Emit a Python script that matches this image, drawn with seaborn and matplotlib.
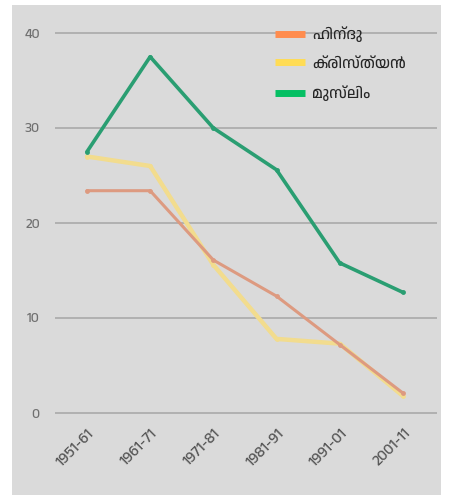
import matplotlib
matplotlib.use("Agg")
import matplotlib.pyplot as plt
from matplotlib import font_manager
from matplotlib.patches import Rectangle
from matplotlib.lines import Line2D
from matplotlib.transforms import ScaledTranslation
import seaborn as sns
import pandas as pd

periods = ["1951-61", "1961-71", "1971-81", "1981-91", "1991-01", "2001-11"]
hindu = [23.4, 23.4, 16.1, 12.3, 7.2, 2.1]
christian = [27.0, 26.0, 15.6, 7.8, 7.3, 1.8]
muslim = [27.5, 37.5, 30.0, 25.6, 15.8, 12.7]
series_names = ["ഹിന്ദു", "ക്രിസ്ത്യൻ", "മുസ്ലിം"]
yticks = [0, 10, 20, 30, 40]

sns.set_theme(style="white")
# pick a Malayalam-capable font if any is installed
mal = [f.name for f in font_manager.fontManager.ttflist if "malayalam" in f.name.lower()]
families = (mal[:1] if mal else []) + ["Noto Sans", "DejaVu Sans"]
plt.rcParams["font.family"] = families

df = pd.DataFrame({
    "period": periods * 3,
    "idx": list(range(len(periods))) * 3,
    "value": hindu + christian + muslim,
    "group": [series_names[0]] * 6 + [series_names[1]] * 6 + [series_names[2]] * 6,
})

fig = plt.figure(figsize=(4.51, 4.99), dpi=100)
fig.patch.set_facecolor("white")
fig.patches.append(Rectangle((12 / 451, 1 - 495 / 499), (441 - 12) / 451, (495 - 5) / 499,
                             transform=fig.transFigure, facecolor="#dadada",
                             edgecolor="none", zorder=-10))
ax = fig.add_axes([55 / 451, 1 - 417.75 / 499, (437 - 55) / 451, (417.75 - 18.75) / 499])
ax.set_facecolor("none")
ax.set_zorder(5)

line_cols = {series_names[0]: "#dd9a80", series_names[1]: "#f2dc8e", series_names[2]: "#2a9e72"}
widths = {series_names[0]: 2.2, series_names[1]: 3.2, series_names[2]: 2.6}
order = [series_names[1], series_names[0], series_names[2]]
for name in order:
    sub = df[df["group"] == name]
    sns.lineplot(data=sub, x="idx", y="value", ax=ax, color=line_cols[name],
                 linewidth=widths[name], marker="o", markersize=3.5,
                 markeredgewidth=0, legend=False, zorder=3)

ax.set_xlim(-0.506, 5.54)
ax.set_ylim(-0.5, 41.5)
ax.set_yticks(yticks)
ax.set_yticklabels([str(t) for t in yticks], color="#707070", fontsize=10)
ax.set_xticks(range(len(periods)))
ax.set_xticklabels(periods, rotation=45, ha="right", rotation_mode="anchor",
                   color="#555555", fontsize=11)
shift = ScaledTranslation(5 / 100, 0, fig.dpi_scale_trans)
for lbl in ax.get_xticklabels():
    lbl.set_transform(lbl.get_transform() + shift)
ax.tick_params(axis="y", length=0, pad=11)
ax.tick_params(axis="x", length=0, pad=6)
ax.grid(axis="y", color="#adadad", linewidth=1.3)
ax.set_axisbelow(True)
for s in ax.spines.values():
    s.set_visible(False)
ax.set_xlabel("")
ax.set_ylabel("")

leg_cols = ["#ff8c4e", "#ffdc55", "#05bf63"]
handles = [Line2D([0], [0], color=c, linewidth=5, solid_capstyle="butt") for c in leg_cols]
ax.legend(handles, series_names, loc="upper right", bbox_to_anchor=(0.955, 1.015),
          frameon=False, fontsize=11, handlelength=2.0, labelspacing=0.95,
          handletextpad=0.45)

fig.savefig("out.png", dpi=100, facecolor="white")
